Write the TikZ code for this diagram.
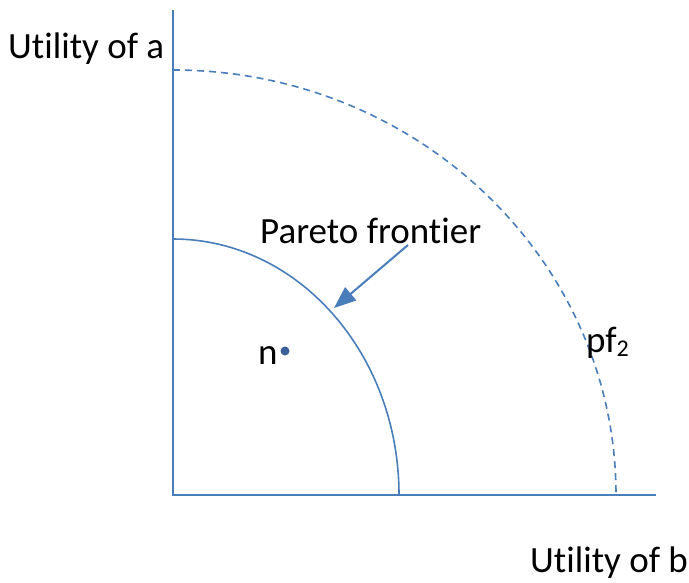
\documentclass[tikz,border=0pt]{standalone}
\usepackage{fontspec}
\setmainfont{Carlito}[Ligatures=NoCommon]
\usetikzlibrary{arrows.meta}
\definecolor{lineblue}{HTML}{4A7EBB}
\definecolor{dotblue}{HTML}{3A5F99}
\begin{document}
\begin{tikzpicture}[x=1pt,y=-1pt,
  axis/.style={draw=lineblue,line width=2pt},
  frontier/.style={draw=lineblue,line width=1.6pt},
  dashfront/.style={draw=lineblue,line width=1.6pt,dash pattern=on 7pt off 5pt},
  label/.style={font=\fontsize{37}{44}\selectfont,inner sep=0pt,anchor=base west},
  pointer/.style={draw=lineblue,line width=2pt,-{Triangle[length=22pt,width=17pt]}}]
\useasboundingbox (0,0) rectangle (689,582);
\coordinate (O) at (173,495);
\coordinate (Atop) at (173,10);
\coordinate (Bend) at (656,495);
\draw[axis] (Atop) -- (O) -- (Bend);
\draw[frontier] (173,239) arc[start angle=-90,end angle=0,x radius=226,y radius=256];
\draw[dashfront] (173,70) arc[start angle=-90,end angle=0,x radius=443,y radius=425];
\node[label] (ua) at (8,58) {Utility of a};
\node[label] (ub) at (530,572) {Utility of b};
\node[label] (pf) at (260,243) {Pareto frontier};
\node[label] (n) at (258,364) {n};
\node[label] (pf2) at (586,352) {pf\raisebox{-4pt}{\fontsize{24}{28}\selectfont 2}};
\fill[dotblue] (285,351) circle (4.5pt);
\coordinate (tailA) at (408,245);
\coordinate (tipA) at (334,308);
\draw[pointer] (tailA) -- (tipA);
\end{tikzpicture}
\end{document}
